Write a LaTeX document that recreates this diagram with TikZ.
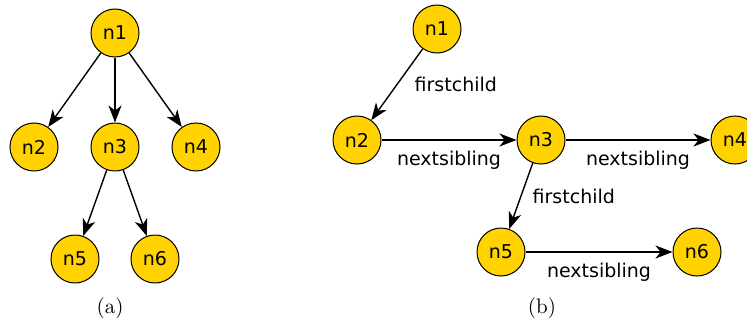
\documentclass[tikz,border=0pt]{standalone}
\usepackage{fontspec}
\newfontfamily\nodefont{DejaVu Sans}
\newfontfamily\capfont{lmroman10-regular.otf}
\usetikzlibrary{arrows.meta}
\definecolor{nodefill}{RGB}{255,210,0}

\begin{document}
\begin{tikzpicture}[x=1pt,y=-1pt,
  tnode/.style={circle, draw=black, line width=1pt, fill=nodefill,
    minimum size=48pt, inner sep=0pt, font=\nodefont\fontsize{19}{21}\selectfont},
  link/.style={line width=1.4pt, -{Stealth[length=17pt,width=13pt,inset=5pt]}},
  lbl/.style={font=\nodefont\fontsize{19}{21}\selectfont, inner sep=0pt},
  caption/.style={font=\capfont\fontsize{21}{24}\selectfont, inner sep=0pt}]
\useasboundingbox (0,0) rectangle (747,324);
\clip (0,0) rectangle (747,324);

% (a) the tree drawn with plain parent-child edges
\node[tnode] (a1) at (115,33)  {n1};
\node[tnode] (a2) at (34,147)  {n2};
\node[tnode] (a3) at (115,147) {n3};
\node[tnode] (a4) at (196,147) {n4};
\node[tnode] (a5) at (75,259)  {n5};
\node[tnode] (a6) at (155,259) {n6};
\draw[link] (a1) -- (a2);
\draw[link] (a1) -- (a3);
\draw[link] (a1) -- (a4);
\draw[link] (a3) -- (a5);
\draw[link] (a3) -- (a6);
\node[caption] (capa) at (110,308) {(a)};

% (b) the same tree as first-child / next-sibling links
\node[tnode] (b1) at (437,29)  {n1};
\node[tnode] (b2) at (357,140) {n2};
\node[tnode] (b3) at (541,140) {n3};
\node[tnode] (b4) at (735,140) {n4};
\node[tnode] (b5) at (501,252) {n5};
\node[tnode] (b6) at (697,252) {n6};
\draw[link] (b1) -- node[lbl, anchor=base west, xshift=17pt, yshift=-6.5pt] {firstchild} (b2);
\draw[link] (b2) -- node[lbl, anchor=base, yshift=-25pt] {nextsibling} (b3);
\draw[link] (b3) -- node[lbl, anchor=base, yshift=-25pt] {nextsibling} (b4);
\draw[link] (b3) -- node[lbl, anchor=base west, xshift=11pt, yshift=-7pt] {firstchild} (b5);
\draw[link] (b5) -- node[lbl, anchor=base, yshift=-25pt] {nextsibling} (b6);
\node[caption] (capb) at (542,308) {(b)};
\end{tikzpicture}
\end{document}
